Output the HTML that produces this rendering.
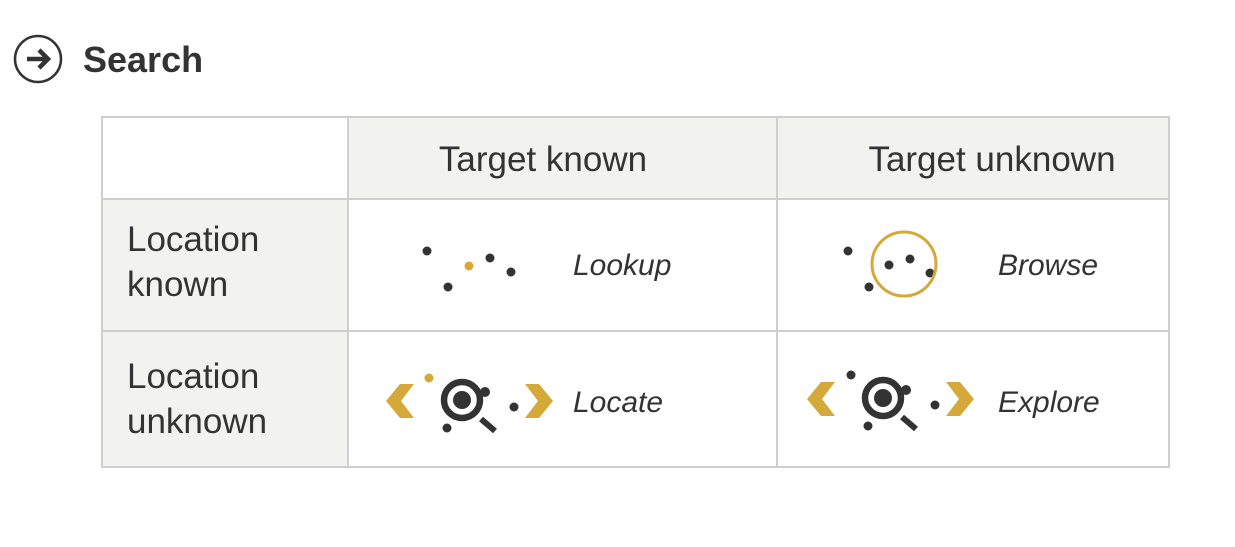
<!DOCTYPE html>
<html><head><style>body{margin:0;background:#fff}</style></head><body>
<svg width="1235" height="542" viewBox="0 0 1235 542" xmlns="http://www.w3.org/2000/svg" font-family="Liberation Sans, sans-serif" fill="#333">
<circle cx="38" cy="59" r="23" fill="none" stroke="#333" stroke-width="2.5"/>
<path d="M27 59 H47 M39 50 L48 59 L39 68" fill="none" stroke="#333" stroke-width="4.5"/>
<text x="83" y="72" font-size="36" font-weight="bold">Search</text>
<rect x="348" y="117" width="821" height="82" fill="#f2f2ee"/>
<rect x="102" y="199" width="246" height="268" fill="#f2f2ee"/>
<g stroke="#cfcfcf" stroke-width="2" fill="none">
<rect x="102" y="117" width="1067" height="350"/>
<line x1="348" y1="117" x2="348" y2="467"/><line x1="777" y1="117" x2="777" y2="467"/>
<line x1="102" y1="199" x2="1169" y2="199"/><line x1="102" y1="331" x2="1169" y2="331"/>
</g>
<g font-size="35">
<text x="543" y="171" text-anchor="middle">Target known</text>
<text x="992" y="171" text-anchor="middle">Target unknown</text>
<text x="127" y="251">Location</text><text x="127" y="296">known</text>
<text x="127" y="388">Location</text><text x="127" y="433">unknown</text>
</g>
<g font-size="30" font-style="italic">
<text x="573" y="275">Lookup</text><text x="998" y="275">Browse</text>
<text x="573" y="412">Locate</text><text x="998" y="412">Explore</text>
</g>
<circle cx="427" cy="251" r="4.5"/><circle cx="469" cy="266" r="4.5" fill="#d4a93a"/><circle cx="490" cy="258" r="4.5"/><circle cx="511" cy="272" r="4.5"/><circle cx="448" cy="287" r="4.5"/>
<circle cx="848" cy="251" r="4.5"/><circle cx="869" cy="287" r="4.5"/><circle cx="889" cy="265" r="4.5"/><circle cx="910" cy="259" r="4.5"/><circle cx="930" cy="273" r="4.5"/>
<circle cx="904" cy="264" r="32" fill="none" stroke="#d4a93a" stroke-width="3"/>
<g id="loc">
<path d="M386 401 L400 384 L414 384 L401 401 L414 418 L400 418 Z" fill="#d4a93a"/>
<path d="M553 401 L539 384 L525 384 L538 401 L525 418 L539 418 Z" fill="#d4a93a"/>
<circle cx="462" cy="400" r="18" fill="none" stroke="#333" stroke-width="6.5"/>
<circle cx="462" cy="400" r="9"/>
<line x1="481" y1="419" x2="495" y2="431" stroke="#333" stroke-width="6"/>
<circle cx="485" cy="392" r="5"/><circle cx="514" cy="407" r="4.5"/><circle cx="447" cy="428" r="4.5"/>
</g>
<circle cx="429" cy="378" r="4.5" fill="#d4a93a"/>
<use href="#loc" transform="translate(421,-2)"/>
<circle cx="851" cy="375" r="4.5"/>
</svg>
</body></html>
